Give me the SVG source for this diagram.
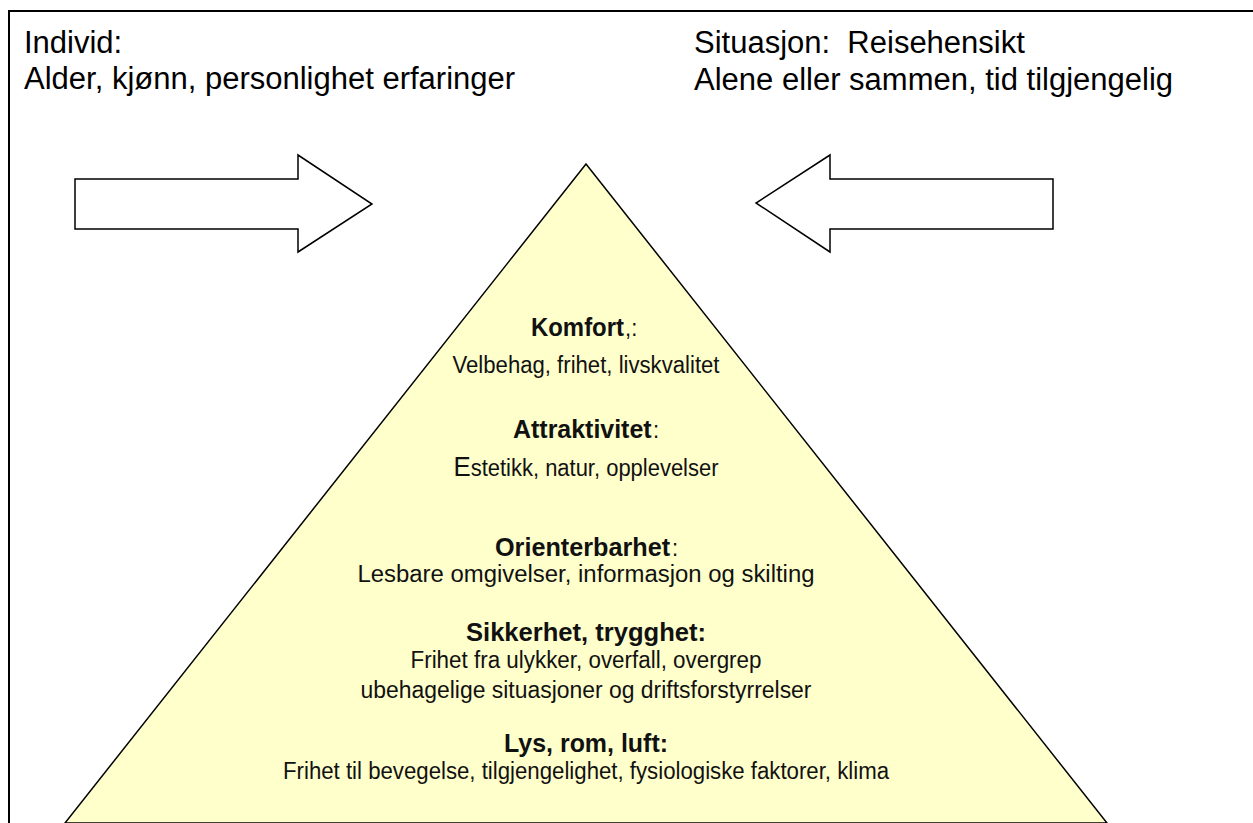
<svg xmlns="http://www.w3.org/2000/svg" width="1253" height="823" viewBox="0 0 1253 823">
<style>
.top{font-family:"Liberation Sans",Arial,sans-serif;font-size:31px;fill:#000}
.p{font-family:"Liberation Sans Narrow","Liberation Sans",Arial,sans-serif;text-anchor:middle;fill:#111}
.s{font-family:"Liberation Sans Narrow","Liberation Sans",Arial,sans-serif;fill:#111}
.h{font-size:26px;font-weight:bold}
.r{font-size:23px}
.c{font-size:24px}
.shape{stroke:#000;stroke-width:1.5;stroke-linejoin:miter}
</style>
<rect width="1253" height="823" fill="#fff"/>
<rect id="frame" x="9" y="11" width="1270" height="840" fill="none" stroke="#000" stroke-width="2"/>
<g id="individ">
<text class="top" x="24" y="53">Individ:</text>
<text class="top" x="24" y="89">Alder, kjønn, personlighet erfaringer</text>
</g>
<g id="situasjon">
<text class="top" x="694" y="53" xml:space="preserve">Situasjon:  Reisehensikt</text>
<text class="top" x="694" y="90">Alene eller sammen, tid tilgjengelig</text>
</g>
<g id="connectors">
<polygon class="shape" fill="#fff" points="75,179 298,179 298,155 372,204 298,252 298,229 75,229"/>
<polygon class="shape" fill="#fff" points="1053,179 830,179 830,155 756,203 830,252 830,229 1053,229"/>
</g>
<polygon id="pyramid" class="shape" fill="#FFFFCC" points="586,164 1107,823 65,823"/>
<g id="komfort">
<text class="s h" transform="translate(531,336) scale(0.92,1)">Komfort</text>
<text class="s c" transform="translate(625,336) scale(0.92,1)">,:</text>
<text class="p r" x="586" y="373" textLength="267" lengthAdjust="spacingAndGlyphs">Velbehag, frihet, livskvalitet</text>
</g>
<g id="attraktivitet">
<text class="s h" transform="translate(513,438) scale(0.96,1)">Attraktivitet</text>
<text class="s c" transform="translate(653,438) scale(0.92,1)">:</text>
<text class="p r" x="586" y="476" textLength="265" lengthAdjust="spacingAndGlyphs"><tspan font-size="27">E</tspan>stetikk, natur, opplevelser</text>
</g>
<g id="orienterbarhet">
<text class="s h" transform="translate(495,556) scale(0.97,1)">Orienterbarhet</text>
<text class="s c" transform="translate(672,556) scale(0.92,1)">:</text>
<text class="p r" x="586" y="582" textLength="457" lengthAdjust="spacingAndGlyphs">Lesbare omgivelser, informasjon og skilting</text>
</g>
<g id="sikkerhet">
<text class="p h" x="586" y="641" textLength="240" lengthAdjust="spacingAndGlyphs">Sikkerhet, trygghet:</text>
<text class="p r" x="586" y="668" textLength="351" lengthAdjust="spacingAndGlyphs">Frihet fra ulykker, overfall, overgrep</text>
<text class="p r" x="586" y="698" textLength="451" lengthAdjust="spacingAndGlyphs">ubehagelige situasjoner og driftsforstyrrelser</text>
</g>
<g id="lys">
<text class="p h" x="586" y="752" textLength="164" lengthAdjust="spacingAndGlyphs">Lys, rom, luft:</text>
<text class="p r" x="586" y="779" textLength="606" lengthAdjust="spacingAndGlyphs">Frihet til bevegelse, tilgjengelighet, fysiologiske faktorer, klima</text>
</g>
</svg>
